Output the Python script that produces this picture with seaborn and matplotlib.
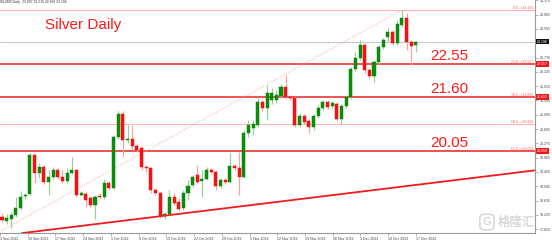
import numpy as np
import pandas as pd
import matplotlib
matplotlib.use("Agg")
import matplotlib.pyplot as plt
import seaborn as sns

# ---------------- data ----------------
opens = [18.16, 18.05, 18.10, 18.22, 18.42, 18.76, 18.82, 19.94, 19.42, 19.60,
         19.17, 19.31, 19.51, 19.31, 19.19, 19.42, 19.51, 18.79, 18.82, 18.71,
         18.51, 18.76, 18.74, 19.14, 18.99, 20.46, 21.12, 20.37, 20.40, 20.20,
         20.14, 19.60, 19.57, 18.94, 18.85, 18.19, 18.25, 18.74, 18.59, 18.42,
         18.85, 19.08, 19.37, 19.19, 19.25, 19.51, 19.45, 19.05, 19.22, 19.17,
         19.63, 19.57, 19.31, 20.57, 20.72, 20.80, 21.46, 21.29, 21.52, 21.52,
         21.63, 21.89, 21.60, 21.58, 20.80, 21.06, 20.92, 20.74, 21.06, 21.29,
         21.46, 21.35, 21.40, 20.97, 21.35, 21.60, 22.41, 22.72, 23.10, 22.38,
         22.21, 22.61, 23.04, 23.33, 23.47, 23.15, 23.67, 23.87, 23.18, 23.10]
highs = [18.28, 18.25, 18.31, 18.74, 18.91, 18.85, 20.00, 19.97, 19.71, 19.65,
         19.51, 19.60, 19.57, 19.51, 19.57, 19.88, 19.54, 18.91, 18.88, 18.76,
         18.79, 18.85, 19.25, 19.19, 20.51, 21.20, 21.20, 20.80, 20.80, 20.26,
         20.20, 19.65, 19.60, 18.99, 18.88, 18.31, 18.94, 18.85, 18.71, 18.94,
         19.22, 19.37, 19.65, 19.51, 19.60, 19.57, 19.51, 19.28, 19.28, 20.00,
         19.68, 20.03, 20.66, 20.94, 20.94, 21.58, 21.52, 21.95, 21.86, 21.81,
         21.98, 22.24, 21.66, 21.63, 21.15, 21.12, 20.97, 21.12, 21.37, 21.52,
         21.52, 21.49, 21.46, 21.40, 21.66, 22.46, 22.90, 23.24, 23.15, 22.44,
         22.67, 23.10, 23.30, 23.58, 23.53, 23.81, 24.10, 24.01, 23.24, 23.22]
lows = [18.02, 17.96, 17.85, 18.16, 18.36, 18.68, 18.79, 19.14, 19.28, 19.11,
        18.79, 19.25, 19.25, 19.14, 19.14, 19.40, 18.74, 18.76, 18.45, 18.45,
        18.10, 18.68, 18.68, 18.94, 18.97, 20.40, 19.88, 20.28, 20.08, 20.03,
        19.51, 19.45, 18.85, 18.79, 18.13, 18.10, 18.22, 18.51, 18.33, 18.36,
        18.65, 19.02, 19.11, 18.74, 19.22, 19.40, 18.94, 18.99, 19.11, 19.14,
        19.51, 18.79, 19.28, 20.46, 20.51, 20.74, 21.20, 20.94, 21.40, 21.43,
        21.58, 21.55, 21.52, 20.74, 20.74, 20.83, 20.57, 20.66, 21.00, 21.23,
        21.26, 21.29, 20.92, 20.83, 21.29, 21.55, 22.35, 22.67, 22.29, 22.15,
        22.03, 22.55, 22.98, 23.18, 23.10, 23.10, 23.61, 22.95, 22.52, 22.89]
closes = [18.08, 18.13, 18.22, 18.42, 18.74, 18.79, 19.94, 19.42, 19.60, 19.17,
          19.31, 19.51, 19.31, 19.19, 19.42, 19.51, 18.79, 18.85, 18.65, 18.51,
          18.74, 18.74, 19.14, 18.99, 20.46, 21.12, 20.37, 20.40, 20.20, 20.08,
          19.60, 19.57, 18.94, 18.85, 18.19, 18.25, 18.74, 18.56, 18.39, 18.85,
          19.05, 19.31, 19.17, 19.25, 19.51, 19.45, 19.05, 19.22, 19.17, 19.63,
          19.57, 19.31, 20.57, 20.80, 20.83, 21.46, 21.29, 21.72, 21.72, 21.66,
          21.89, 21.60, 21.58, 20.80, 21.06, 20.89, 20.74, 21.06, 21.29, 21.46,
          21.32, 21.43, 20.97, 21.35, 21.60, 22.41, 22.72, 23.10, 22.38, 22.21,
          22.61, 23.04, 23.24, 23.47, 23.15, 23.70, 23.87, 23.18, 23.06, 23.196]

date_labels = ["3 Sep 2022", "10 Sep 2022", "17 Sep 2022", "24 Sep 2022",
               "1 Oct 2022", "8 Oct 2022", "15 Oct 2022", "22 Oct 2022",
               "29 Oct 2022", "5 Nov 2022", "12 Nov 2022", "19 Nov 2022",
               "26 Nov 2022", "3 Dec 2022", "10 Dec 2022", "17 Dec 2022"]
price_ticks = [17.815, 18.225, 18.635, 19.045, 19.455, 19.865, 20.275, 20.685,
               21.095, 21.505, 21.915, 22.325, 22.735, 23.145, 23.555, 23.965,
               24.375]

fib_high, fib_low = 24.10, 17.56
fib_high_idx, fib_low_idx = 86, -3
fib_ratios = [0.0, 23.6, 38.2, 50.0, 61.8]
fib_strong = [False, True, True, False, True]
key_labels = ["22.55", "21.60", "20.05"]
trend_idx = [4.3, 114.6]
trend_price = [17.70, 19.50]
last_price = 23.196
header = "SILVER,Daily  23.097 23.215 22.890 23.196"
title = "Silver Daily"

# ---------------- style ----------------
sns.set_theme(style="white")
plt.rcParams["font.family"] = ["Liberation Sans", "DejaVu Sans", "Noto Sans CJK SC"]

GREEN = "#0b8a0b"
RED = "#f21212"
WICK_G = "#9ccf9c"
WICK_R = "#f6a3a3"

W, H = 552, 240
fig = plt.figure(figsize=(W / 100, H / 100), dpi=100)
ax = fig.add_axes([0, 7 / H, 535 / W, 233 / H])

spacing = 4.65
x_left = -2 / spacing
x_right = (535 - 2) / spacing
ax.set_xlim(x_left, x_right)
ax.set_ylim(17.7035, 24.3868)

df = pd.DataFrame({"o": opens, "h": highs, "l": lows, "c": closes})
df["idx"] = np.arange(len(df))
up = df["c"] >= df["o"]

# wicks
ax.vlines(df["idx"], df["l"], df["h"], colors=np.where(up, WICK_G, WICK_R),
          lw=0.9, zorder=3)
# bodies
body_col = np.where(up, GREEN, RED)
ax.bar(df["idx"], (df["c"] - df["o"]).abs(), bottom=np.minimum(df["o"], df["c"]),
       width=0.66, color=body_col, edgecolor=body_col, linewidth=0.35, zorder=4)

# fibonacci levels
fib_levels = [fib_high - r / 100 * (fib_high - fib_low) for r in fib_ratios]
for r, lvl, strong in zip(fib_ratios, fib_levels, fib_strong):
    if strong:
        ax.axhline(lvl, color="#ee2020", lw=1.1, zorder=2)
    else:
        ax.axhline(lvl, color="#ffb3b3", lw=0.8, zorder=2)
    ax.text(x_right - 0.4, lvl, f"{r:.1f} ->{lvl:.3f}", ha="right", va="bottom",
            fontsize=2.6, color="#ff5a5a", zorder=5)

# current price line
ax.axhline(last_price, color="#c8c8c8", lw=0.8, zorder=1)

# fib diagonal (dotted) and support trendline
fib_line = pd.DataFrame({"x": [fib_low_idx, fib_high_idx], "y": [fib_low, fib_high]})
sns.lineplot(data=fib_line, x="x", y="y", ax=ax, color="#ffa0a0", lw=0.7,
             linestyle=(0, (1, 1.5)), zorder=2)
trend = pd.DataFrame({"x": trend_idx, "y": trend_price})
sns.lineplot(data=trend, x="x", y="y", ax=ax, color="#ee1c1c", lw=1.3, zorder=5)

# key level labels
strong_levels = [l for l, s in zip(fib_levels, fib_strong) if s]
for txt, lvl in zip(key_labels, strong_levels):
    ax.annotate(txt, xy=(92.0, lvl), xytext=(0, 2.6), textcoords="offset points",
                ha="left", va="baseline", fontsize=11, color="#ff1a1a", zorder=6)

ax.text(9.25, 23.555, title, ha="left", va="baseline", fontsize=11,
        color="#ff1a1a", zorder=6)
ax.text(0.0, 1.0, header, transform=ax.transAxes, ha="left", va="top",
        fontsize=2.4, color="#333333")

# price tags on right axis
ytr = ax.get_yaxis_transform()
for lvl in strong_levels:
    ax.annotate(f"{lvl:.3f}", xy=(1, lvl), xycoords=ytr, xytext=(1.2, 0),
                textcoords="offset points", ha="left", va="center", fontsize=2.6,
                color="white", annotation_clip=False, zorder=7,
                bbox=dict(boxstyle="square,pad=0.25", fc="#f01818", ec="none"))
ax.annotate(f"{last_price:.3f}", xy=(1, last_price), xycoords=ytr, xytext=(1.2, 0),
            textcoords="offset points", ha="left", va="center", fontsize=2.6,
            color="white", annotation_clip=False, zorder=7,
            bbox=dict(boxstyle="square,pad=0.25", fc="#111111", ec="none"))

# axes decoration
for s in ["left", "top"]:
    ax.spines[s].set_visible(False)
for s in ["right", "bottom"]:
    ax.spines[s].set_color("#9a9a9a")
    ax.spines[s].set_linewidth(0.8)
ax.yaxis.tick_right()
ax.set_yticks(price_ticks)
# the tick label hidden under the current-price tag is left blank
ax.set_yticklabels(["" if abs(t - last_price) < 0.1 else f"{t:.3f}" for t in price_ticks])
ax.tick_params(axis="y", labelsize=2.6, length=2, width=0.5, colors="#9a9a9a",
               labelcolor="#444444", pad=1.2, right=True, left=False)
tick_pos = [x_left + 27.73 * k / spacing for k in range(len(date_labels))]
ax.set_xticks(tick_pos)
ax.set_xticklabels(date_labels, ha="left")
ax.tick_params(axis="x", labelsize=2.6, length=2, width=0.5, colors="#9a9a9a",
               labelcolor="#444444", pad=1.2, bottom=True)
ax.set_xlabel("")
ax.set_ylabel("")
ax.grid(False)

# watermark
fig.text(487 / W, 1 - 222 / H, "G", ha="center", va="center", fontsize=8,
         color="#d8d8d8", fontweight="bold",
         bbox=dict(boxstyle="round,pad=0.25,rounding_size=0.4", fc="none",
                   ec="#d8d8d8", lw=1.2))
fig.text(517 / W, 1 - 222 / H, "格隆汇", ha="center", va="center", fontsize=9,
         color="#d8d8d8", fontweight="bold",
         family=["Noto Sans CJK SC", "DejaVu Sans"])

fig.savefig("out.png", dpi=100)
